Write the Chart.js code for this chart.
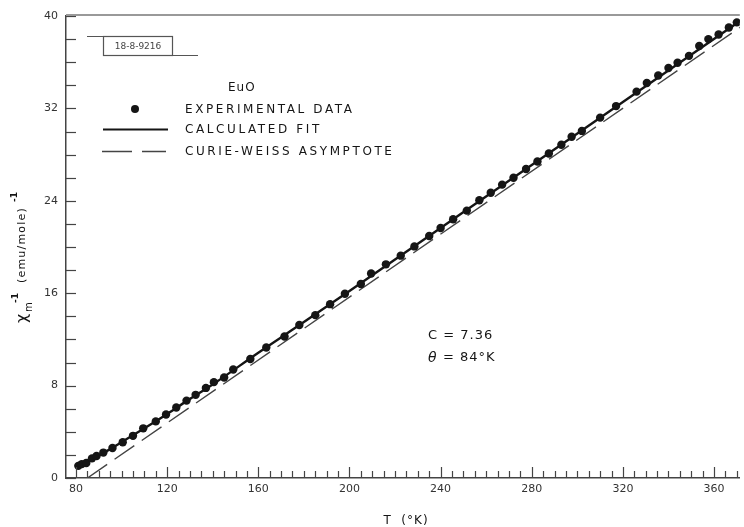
<!DOCTYPE html>
<html>
<head>
<meta charset="utf-8">
<script src="https://cdn.jsdelivr.net/npm/chart.js@4"></script>
<style>
  body { margin: 0; background: #fff; }
  #wrap { width: 744px; height: 527px; position: relative; }
</style>
</head>
<body>
<div id="wrap"><canvas id="chart"></canvas></div>
<script>
/* EuO inverse susceptibility vs temperature */

// --- Data ---
const expT = [81, 82.5, 84.5, 87, 89, 92, 96, 100.5, 105, 109.5,
    115, 119.5, 124, 128.5, 132.5, 137, 140.5, 145, 149, 156.5,
    163.5, 171.5, 178, 185, 191.5, 198, 205, 209.5, 216, 222.5,
    228.5, 235, 240, 245.5, 251.5, 257, 262, 267, 272, 277.5,
    282.5, 287.5, 293, 297.5, 302, 310, 317, 326, 330.5, 335.5,
    340, 344, 349, 353.5, 357.5, 362, 366.5, 370];
const expChi = [1.05, 1.2, 1.3, 1.7, 1.9, 2.2, 2.6, 3.1, 3.65, 4.3,
    4.9, 5.5, 6.1, 6.7, 7.2, 7.8, 8.3, 8.7, 9.4, 10.3,
    11.3, 12.25, 13.25, 14.1, 15.05, 15.95, 16.8, 17.7, 18.5, 19.25,
    20.05, 20.95, 21.65, 22.4, 23.15, 24.05, 24.7, 25.4, 26.0, 26.75,
    27.4, 28.1, 28.85, 29.55, 30.05, 31.2, 32.2, 33.45, 34.2, 34.85,
    35.5, 35.95, 36.55, 37.4, 38.0, 38.4, 39.0, 39.45];

const fitT = [80, 85, 90, 95, 100, 110, 120, 130, 140, 160, 180, 200, 240, 280, 320, 372];
const fitChi = [0.95, 1.4, 1.95, 2.5, 3.1, 4.3, 5.55, 6.85, 8.1, 10.85, 13.5, 16.2, 21.65, 27.1, 32.55, 39.65];

const asymT = [85, 372];
const asymChi = [0, 39.1];

const xLabels = [80, 120, 160, 200, 240, 280, 320, 360];
const yLabels = [0, 8, 16, 24, 32, 40];

const toXY = (xs, ys) => xs.map((v, i) => ({ x: v, y: ys[i] }));

const INK = '#151515';
const AXIS = '#444';

// --- Decorations: inward ticks, frame, legend, labels ---
const decorations = {
    id: 'decorations',
    afterDraw(chart) {
        const ctx = chart.ctx;
        const xs = chart.scales.x, ys = chart.scales.y;
        const a = chart.chartArea;
        ctx.save();

        // inward tick marks
        ctx.strokeStyle = AXIS;
        ctx.lineWidth = 1.2;
        xs.ticks.forEach(t => {
            const px = Math.round(xs.getPixelForValue(t.value)) + 0.5;
            const len = xLabels.includes(t.value) ? 11 : 7;
            ctx.beginPath();
            ctx.moveTo(px, a.bottom);
            ctx.lineTo(px, a.bottom - len);
            ctx.stroke();
        });
        ys.ticks.forEach(t => {
            const py = Math.round(ys.getPixelForValue(t.value)) + 0.5;
            ctx.beginPath();
            ctx.moveTo(a.left, py);
            ctx.lineTo(a.left + 10, py);
            ctx.stroke();
        });

        // top frame line
        ctx.strokeStyle = '#999';
        ctx.lineWidth = 2;
        ctx.beginPath();
        ctx.moveTo(a.left, a.top - 1);
        ctx.lineTo(a.right, a.top - 1);
        ctx.stroke();

        // drawing number box
        ctx.strokeStyle = '#555';
        ctx.lineWidth = 1.2;
        ctx.strokeRect(103.5, 36.5, 69, 19);
        ctx.beginPath();
        ctx.moveTo(87, 36.5); ctx.lineTo(103.5, 36.5);
        ctx.moveTo(172.5, 55.5); ctx.lineTo(198, 55.5);
        ctx.stroke();
        ctx.fillStyle = '#444';
        ctx.font = '9px "DejaVu Sans"';
        ctx.textAlign = 'center';
        ctx.textBaseline = 'middle';
        ctx.fillText('18-8-9216', 138, 46.5);

        // legend
        ctx.fillStyle = INK;
        ctx.textAlign = 'left';
        ctx.font = '12px "DejaVu Sans"';
        ctx.letterSpacing = '1px';
        ctx.fillText('EuO', 228, 88);
        ctx.letterSpacing = '2.6px';
        ctx.fillText('EXPERIMENTAL DATA', 185, 110);
        ctx.fillText('CALCULATED FIT', 185, 130);
        ctx.fillText('CURIE-WEISS ASYMPTOTE', 185, 152);
        ctx.letterSpacing = '0px';

        ctx.beginPath();
        ctx.arc(135, 109, 4, 0, Math.PI * 2);
        ctx.fill();

        ctx.strokeStyle = INK;
        ctx.lineWidth = 2.2;
        ctx.beginPath();
        ctx.moveTo(103, 129.5); ctx.lineTo(168, 129.5);
        ctx.stroke();

        ctx.strokeStyle = '#444';
        ctx.lineWidth = 1.4;
        ctx.setLineDash([30, 10]);
        ctx.beginPath();
        ctx.moveTo(102, 151.5); ctx.lineTo(166, 151.5);
        ctx.stroke();
        ctx.setLineDash([]);

        // constants annotation
        ctx.font = '13px "DejaVu Sans"';
        ctx.letterSpacing = '1px';
        ctx.fillText('C = 7.36', 428, 336);
        ctx.font = 'italic 14px "DejaVu Sans"';
        ctx.fillText('θ', 428, 358);
        ctx.font = '13px "DejaVu Sans"';
        ctx.fillText('= 84°K', 443, 358);

        // x axis title
        ctx.textAlign = 'center';
        ctx.font = '12px "DejaVu Sans"';
        ctx.fillText('T  (°K)', 406, 521);
        ctx.letterSpacing = '0px';

        // y axis title, rotated
        ctx.save();
        ctx.translate(27, 323);
        ctx.rotate(-Math.PI / 2);
        ctx.textAlign = 'left';
        ctx.textBaseline = 'alphabetic';
        ctx.font = '16px "DejaVu Sans"';
        ctx.fillText('χ', 0, 0);
        ctx.font = '10px "DejaVu Sans"';
        ctx.fillText('m', 11, 5);
        ctx.font = 'bold 9px "DejaVu Sans"';
        ctx.fillText('-1', 20, -9);
        ctx.font = '11px "DejaVu Sans"';
        ctx.letterSpacing = '1.2px';
        ctx.fillText('(emu/mole)', 40, -2);
        ctx.letterSpacing = '0px';
        ctx.font = 'bold 9px "DejaVu Sans"';
        ctx.fillText('-1', 121, -10);
        ctx.restore();

        ctx.restore();
    }
};

// --- Chart ---
const ctx = document.getElementById('chart').getContext('2d');
new Chart(ctx, {
    type: 'scatter',
    data: {
        datasets: [
            {
                label: 'Experimental data',
                data: toXY(expT, expChi),
                showLine: false,
                pointRadius: 4.2,
                pointBackgroundColor: INK,
                pointBorderColor: INK,
                pointBorderWidth: 0,
            },
            {
                label: 'Calculated fit',
                data: toXY(fitT, fitChi),
                showLine: true,
                borderColor: INK,
                borderWidth: 2.4,
                pointRadius: 0,
                cubicInterpolationMode: 'monotone',
            },
            {
                label: 'Curie-Weiss asymptote',
                data: toXY(asymT, asymChi),
                showLine: true,
                borderColor: '#444',
                borderWidth: 1.4,
                borderDash: [24, 9],
                pointRadius: 0,
            },
        ]
    },
    options: {
        responsive: true,
        maintainAspectRatio: false,
        animation: false,
        layout: { padding: { top: 16, right: 0, left: 0, bottom: 0 } },
        plugins: {
            legend: { display: false },
            tooltip: { enabled: false },
        },
        scales: {
            x: {
                type: 'linear',
                min: 75.6,
                max: 371.3,
                afterFit: s => { s.height = 49; },
                grid: { display: false, drawTicks: false },
                border: { display: true, color: AXIS, width: 1.5 },
                ticks: {
                    stepSize: 5,
                    includeBounds: false,
                    autoSkip: false,
                    maxRotation: 0,
                    padding: 5,
                    color: '#333',
                    font: { family: 'DejaVu Sans', size: 11 },
                    callback: v => xLabels.includes(v) ? String(v) : '',
                },
            },
            y: {
                min: 0,
                max: 40,
                afterFit: s => { s.width = 66; },
                grid: { display: false, drawTicks: false },
                border: { display: true, color: AXIS, width: 1.5 },
                ticks: {
                    stepSize: 2,
                    autoSkip: false,
                    padding: 8,
                    color: '#333',
                    font: { family: 'DejaVu Sans', size: 11 },
                    callback: v => yLabels.includes(v) ? String(v) : '',
                },
            },
        },
    },
    plugins: [decorations],
});
</script>
</body>
</html>
